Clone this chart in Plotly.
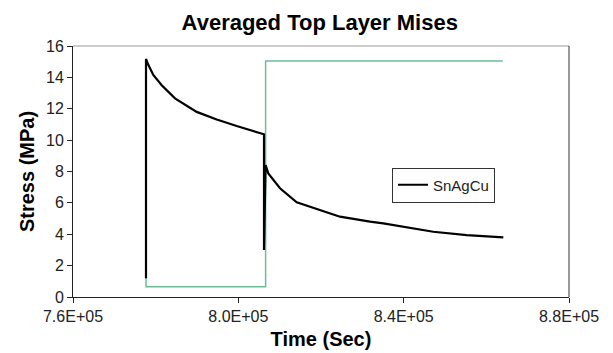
import plotly.graph_objects as go

# SnAgCu averaged top layer Mises stress
snagcu_time = [777661, 777661, 778218, 779427, 781460, 784677, 789928, 794766, 799605, 806210,
               806210, 806597, 807250, 810081, 814121, 819758, 824597, 831855, 835073,
               847170, 855250, 864105]
snagcu_stress = [1.2, 15.17, 14.8, 14.15, 13.5, 12.66, 11.8, 11.32, 10.9, 10.37,
                 2.99, 8.41, 7.88, 6.93, 6.04, 5.55, 5.12, 4.8, 4.69,
                 4.16, 3.95, 3.80]

# Load profile (green step line)
load_time = [777661, 777661, 806600, 806600, 864000]
load_value = [15.1, 0.65, 0.65, 15.05, 15.05]

x_tickvals = [760000, 800000, 840000, 880000]
x_ticktext = ["7.6E+05", "8.0E+05", "8.4E+05", "8.8E+05"]
y_tickvals = [0, 2, 4, 6, 8, 10, 12, 14, 16]

font = "Liberation Sans, Arial, sans-serif"

W, H = 605, 345  # page body has an 8px margin

fig = go.Figure()
fig.add_trace(go.Scatter(x=load_time, y=load_value, mode="lines",
                         line=dict(color="rgb(108,190,150)", width=1.5),
                         showlegend=False, hoverinfo="skip"))
fig.add_trace(go.Scatter(x=snagcu_time, y=snagcu_stress, mode="lines",
                         line=dict(color="black", width=2.2), name="SnAgCu"))

fig.update_layout(
    width=W, height=H,
    margin=dict(l=65, r=44, t=38, b=56, autoexpand=False),
    paper_bgcolor="white", plot_bgcolor="white",
    font=dict(family=font, color="#222", size=16),
    title=dict(text="<b>Averaged Top Layer Mises</b>", x=301 / W, xref="paper",
               y=1 - 14 / H, yref="container", xanchor="center", yanchor="middle",
               font=dict(family=font, size=22, color="black")),
    legend=dict(x=(392 - 73) / 496, y=(297 - 185) / 251, xanchor="left", yanchor="middle",
                bgcolor="white", bordercolor="#333", borderwidth=1,
                font=dict(family=font, size=15, color="#222"),
                itemwidth=30, tracegroupgap=0),
    xaxis=dict(range=[760000, 880000], tickvals=x_tickvals, ticktext=x_ticktext,
               automargin=False,
               showgrid=False, zeroline=False, showline=True, linecolor="#222",
               linewidth=1, ticks="outside", ticklen=5, tickcolor="#222",
               title=dict(text="<b>Time (Sec)</b>", standoff=7,
                          font=dict(family=font, size=20, color="black"))),
    yaxis=dict(range=[0, 16], tickvals=y_tickvals,
               automargin=False,
               showgrid=False, zeroline=False, showline=True, linecolor="#222",
               linewidth=1, ticks="outside", ticklen=5, tickcolor="#222",
               title=dict(text="<b>Stress (MPa)</b>", standoff=6,
                          font=dict(family=font, size=20, color="black"))),
    shapes=[
        dict(type="line", xref="paper", yref="paper", x0=0, x1=1, y0=1, y1=1,
             line=dict(color="#999", width=1)),
        dict(type="line", xref="paper", yref="paper", x0=1, x1=1, y0=0, y1=1,
             line=dict(color="#333", width=1)),
    ],
)

fig.write_html("out.html")
